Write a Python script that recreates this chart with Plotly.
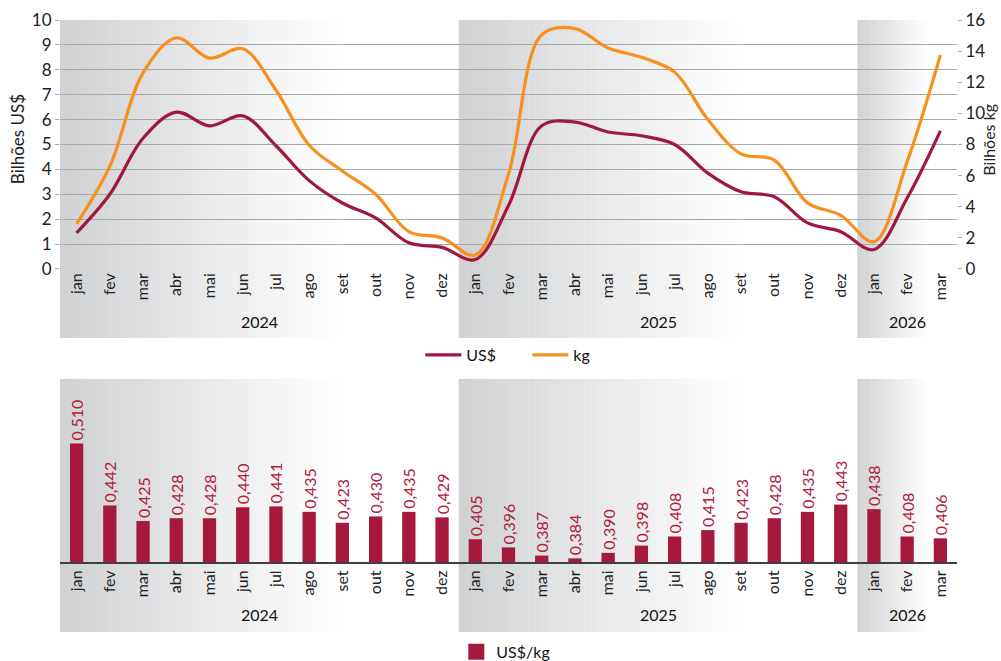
import plotly.graph_objects as go

months = ["jan", "fev", "mar", "abr", "mai", "jun", "jul", "ago", "set", "out", "nov", "dez",
          "jan", "fev", "mar", "abr", "mai", "jun", "jul", "ago", "set", "out", "nov", "dez",
          "jan", "fev", "mar"]
years = ["2024", "2025", "2026"]
year_center_idx = [5.5, 17.5, 25]
year_span_idx = [(-0.5, 11.5), (11.5, 23.5), (23.5, 26.5)]

usd = [1.45, 3.0, 5.25, 6.3, 5.75, 6.15, 4.95, 3.55, 2.65, 2.05, 1.05, 0.87,
       0.38, 2.55, 5.75, 5.9, 5.5, 5.35, 5.0, 3.85, 3.1, 2.9, 1.85, 1.5,
       0.78, 2.85, 5.55]
kg = [2.9, 6.6, 12.6, 14.85, 13.55, 14.15, 11.5, 7.95, 6.3, 4.8, 2.4, 2.0,
      0.9, 6.1, 15.05, 15.45, 14.2, 13.6, 12.65, 9.6, 7.4, 7.0, 4.25, 3.45,
      1.75, 6.9, 13.75]
price = [0.510, 0.442, 0.425, 0.428, 0.428, 0.440, 0.441, 0.435, 0.423, 0.430, 0.435, 0.429,
         0.405, 0.396, 0.387, 0.384, 0.390, 0.398, 0.408, 0.415, 0.423, 0.428, 0.435, 0.443,
         0.438, 0.408, 0.406]

left_ticks = list(range(0, 11))
right_ticks = list(range(0, 17, 2))

CRIMSON = "#a0193d"
ORANGE = "#f7901e"
BAR = "#a6193c"
FONT = "Lato"
idx = list(range(len(months)))

fig = go.Figure()
fig.add_trace(go.Scatter(x=idx, y=usd, name="US$", mode="lines",
                         line=dict(color=CRIMSON, width=3.2, shape="spline", smoothing=1.0),
                         xaxis="x", yaxis="y", legend="legend"))
fig.add_trace(go.Scatter(x=idx, y=kg, name="kg", mode="lines",
                         line=dict(color=ORANGE, width=3.2, shape="spline", smoothing=1.0),
                         xaxis="x", yaxis="y2", legend="legend"))
fig.add_trace(go.Bar(x=idx, y=[p - 0.38 for p in price], base=0.38, name="US$/kg",
                     marker=dict(color=BAR, line=dict(width=0)), width=0.4,
                     text=[f"{p:.3f}".replace(".", ",") for p in price],
                     textposition="outside", textangle=-90, constraintext="none",
                     textfont=dict(color="#b0203f", size=16, family=FONT),
                     cliponaxis=False, xaxis="x2", yaxis="y3", showlegend=False))
# legend entry for the bars (bigger square swatch like the original)
fig.add_trace(go.Scatter(x=[None], y=[None], name="US$/kg", mode="markers",
                         marker=dict(symbol="square", size=17, color=BAR),
                         xaxis="x2", yaxis="y3", legend="legend2", hoverinfo="skip"))

# gradient background bands
shapes = []
g0 = (208, 209, 211)
N = 40
def add_band(xref, x0, x1, y0, y1):
    w = x1 - x0
    fade = 0.7 * w
    for i in range(N):
        a = x0 + fade * i / N
        b = x0 + fade * (i + 1) / N
        t = (i + 0.5) / N
        c = tuple(int(round(g0[k] + (255 - g0[k]) * t)) for k in range(3))
        shapes.append(dict(type="rect", xref=xref, yref="paper", x0=a, x1=b + 0.01, y0=y0, y1=y1,
                           fillcolor=f"rgb{c}", line=dict(width=0), layer="below"))

TOP_Y0, TOP_Y1 = 0.4133, 1.0
BOT_Y0, BOT_Y1 = -0.1292, 0.3376
for (a, b) in year_span_idx:
    add_band("x", a, b, TOP_Y0, TOP_Y1)
    add_band("x2", a, b, BOT_Y0, BOT_Y1)

annotations = []
for yr, c in zip(years, year_center_idx):
    annotations.append(dict(x=c, xref="x", y=0.4446, yref="paper", text=yr, showarrow=False,
                            font=dict(size=16, family=FONT, color="#111111"), yanchor="middle"))
    annotations.append(dict(x=c, xref="x2", y=-0.0977, yref="paper", text=yr, showarrow=False,
                            font=dict(size=16, family=FONT, color="#111111"), yanchor="middle"))
annotations.append(dict(x=-0.048, xref="paper", y=0.78, yref="paper", text="Bilhões US$",
                        textangle=-90, showarrow=False, xanchor="center", yanchor="middle",
                        font=dict(size=17, family=FONT, color="#222")))
annotations.append(dict(x=1.035, xref="paper", y=0.78, yref="paper", text="Bilhões kg",
                        textangle=-90, showarrow=False, xanchor="center", yanchor="middle",
                        font=dict(size=16, family=FONT, color="#222")))

xcommon = dict(range=[-0.5, 26.5], tickmode="array", tickvals=idx, ticktext=months,
               tickangle=-90, showgrid=False, zeroline=False, ticks="",
               tickfont=dict(size=16, family=FONT, color="#222"), fixedrange=True, automargin=False)

fig.update_layout(
    width=1001, height=661,
    margin=dict(l=60, r=44, t=20, b=99, autoexpand=False),
    paper_bgcolor="white", plot_bgcolor="rgba(0,0,0,0)",
    font=dict(family=FONT, size=15, color="#222"),
    shapes=shapes, annotations=annotations,
    xaxis=dict(**xcommon, anchor="y", showline=False),
    yaxis=dict(domain=[0.5406, 1.0], range=[0, 10], tickvals=left_ticks, showgrid=True,
               gridcolor="#a8a8a8", gridwidth=1.3, zeroline=False, ticks="outside",
               ticklen=4, tickcolor="#a8a8a8", tickfont=dict(size=17, family=FONT, color="#222"),
               automargin=False, fixedrange=True),
    yaxis2=dict(range=[0, 16], tickvals=right_ticks, overlaying="y", side="right", anchor="x",
                showgrid=False, zeroline=False, ticks="outside", ticklen=4, tickcolor="#a8a8a8",
                tickfont=dict(size=17, family=FONT, color="#222"), automargin=False, fixedrange=True),
    xaxis2=dict(**xcommon, anchor="y3", showline=True, linecolor="#404040", linewidth=2),
    yaxis3=dict(domain=[0.0, 0.3376], range=[0.38, 0.5807], visible=False, showgrid=False,
                fixedrange=True),
    legend=dict(orientation="h", x=0.521, xanchor="center", y=0.382, yanchor="middle",
                font=dict(size=16, family=FONT, color="#111"), bgcolor="rgba(0,0,0,0)",
                itemwidth=36, tracegroupgap=0, entrywidth=56),
    legend2=dict(orientation="h", x=0.497, xanchor="center", y=-0.166, yanchor="middle",
                 font=dict(size=16, family=FONT, color="#111"), bgcolor="rgba(0,0,0,0)",
                 itemwidth=30),
    bargap=0.6,
)

fig.write_html("out.html", config={"displayModeBar": False},
               post_script="document.body.style.margin='0';document.body.style.overflow='hidden';")
